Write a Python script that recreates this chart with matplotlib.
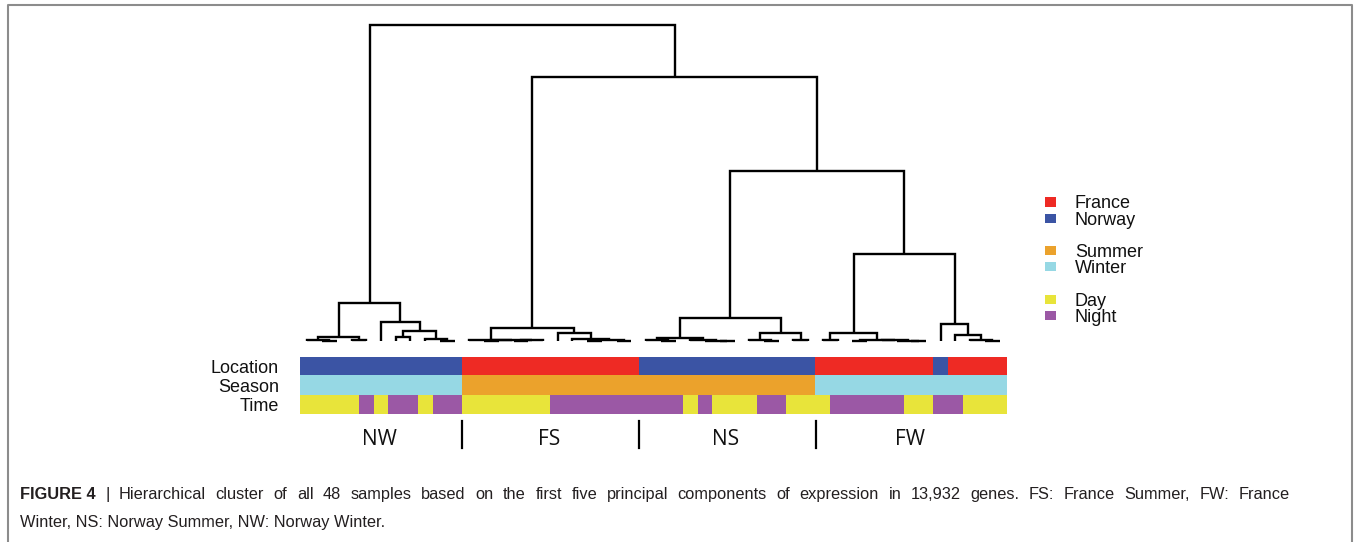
import matplotlib
matplotlib.use("Agg")
import matplotlib.pyplot as plt
import matplotlib.colors as mcolors
import numpy as np
from matplotlib.lines import Line2D

# dendrogram, one subtree per group: [left, right, merge height], ints are leaves
nw_tree = [[[0, [1, 2, 0.05], 0.08], [3, 4, 0.08], 0.37],
           [5, [[6, 7, 0.40], [8, [9, 10, 0.05], 0.25], 1.00], 1.93], 3.77]
fs_tree = [[11, [[12, 13, 0.05], [[14, 15, 0.03], 16, 0.06], 0.08], 0.10],
           [17, [18, [[19, 20, 0.05], [21, 22, 0.04], 0.08], 0.20], 0.77], 1.27]
ns_tree = [[[23, [24, 25, 0.05], 0.10], [26, [27, [28, 29, 0.03], 0.05], 0.08], 0.27],
           [[30, [31, 32, 0.04], 0.07], [33, 34, 0.06], 0.83], 2.27]
fw_tree = [[[35, 36, 0.06], [[37, 38, 0.05], [39, [40, [41, 42, 0.03], 0.05], 0.07], 0.09], 0.83],
           [43, [44, [45, [46, 47, 0.04], 0.07], 0.60], 1.70], 8.70]
top_heights = [31.6, 26.4, 17.0]  # root, FS+(NS+FW), NS+FW

# annotation rows (run lengths along the leaf order)
location_runs = [("Norway", 11), ("France", 12), ("Norway", 12),
                 ("France", 8), ("Norway", 1), ("France", 4)]
season_runs = [("Winter", 11), ("Summer", 24), ("Winter", 13)]
time_runs = [("Day", 4), ("Night", 1), ("Day", 1), ("Night", 2), ("Day", 1), ("Night", 2),
             ("Day", 6), ("Night", 9), ("Day", 1), ("Night", 1), ("Day", 3), ("Night", 2),
             ("Day", 3), ("Night", 5), ("Day", 2), ("Night", 2), ("Day", 3)]
row_labels = ["Location", "Season", "Time"]

group_names = ["NW", "FS", "NS", "FW"]
group_sizes = [11, 12, 12, 13]

legend_groups = [["France", "Norway"], ["Summer", "Winter"], ["Day", "Night"]]
colors = {"France": "#EE2A24", "Norway": "#3B54A4", "Summer": "#EBA22C",
          "Winter": "#96D8E4", "Day": "#E8E43A", "Night": "#9B58A5"}

caption_bold = "FIGURE 4"
caption_1 = ("| Hierarchical cluster of all 48 samples based on the first five principal "
             "components of expression in 13,932 genes. FS: France Summer, FW: France")
caption_2 = "Winter, NS: Norway Summer, NW: Norway Winter."

plt.rcParams['font.family'] = ['Liberation Sans', 'DejaVu Sans']

W, H = 1356, 542
fig = plt.figure(figsize=(W / 100, H / 100), dpi=100)
fig.patch.set_facecolor("white")


def fa(x0, y_top, x1, y_bot):
    """pixel box -> figure fraction rect"""
    return [x0 / W, 1 - y_bot / H, (x1 - x0) / W, (y_bot - y_top) / H]


def layout(node, segs):
    if isinstance(node, int):
        return node + 0.5, 0.0
    xl, hl = layout(node[0], segs)
    xr, hr = layout(node[1], segs)
    h = node[2]
    segs.append(([xl, xl, xr, xr], [hl, h, h, hr]))
    return (xl + xr) / 2, h


def expand(runs):
    out = []
    for name, n in runs:
        out += [name] * n
    return out


n_leaves = sum(group_sizes)
tree = [nw_tree, [fs_tree, [ns_tree, fw_tree, top_heights[2]], top_heights[1]], top_heights[0]]

# --- dendrogram
ax_d = fig.add_axes(fa(300, 25, 1007, 341))
segs = []
layout(tree, segs)
for xs, ys in segs:
    ax_d.plot(xs, ys, color="black", lw=1.7, solid_joinstyle="miter",
              solid_capstyle="butt", clip_on=False)
ax_d.set_xlim(0, n_leaves)
ax_d.set_ylim(0, top_heights[0])
ax_d.axis("off")

# --- colour bars
ax_h = fig.add_axes(fa(300, 356.7, 1007, 414))
rows = [expand(r) for r in (location_runs, season_runs, time_runs)]
rgb = np.array([[mcolors.to_rgb(colors[c]) for c in row] for row in rows])
ax_h.imshow(rgb, aspect="auto", extent=(0, n_leaves, len(rows), 0), interpolation="nearest")
ax_h.axis("off")
tr = matplotlib.transforms.blended_transform_factory(ax_h.transAxes, ax_h.transData)
for i, lab in enumerate(row_labels):
    ax_h.text(-0.0297, i + 0.6, lab, transform=tr, ha="right", va="center",
              fontsize=13, color="#111111")

# --- group labels and separators
ax_g = fig.add_axes(fa(300, 414, 1007, 460))
ax_g.set_xlim(0, n_leaves)
ax_g.set_ylim(0, 1)
bounds = np.cumsum([0] + group_sizes)
for k, name in enumerate(group_names):
    ax_g.text((bounds[k] + bounds[k + 1]) / 2 - 0.1, 0.44, name, ha="center", va="center",
              fontsize=15, family=["Open Sans", "DejaVu Sans"], color="#111111")
for b in bounds[1:-1]:
    ax_g.axvline(b, ymin=0.26, ymax=0.848, color="black", lw=1.6)
ax_g.axis("off")

# --- legend
ax_l = fig.add_axes(fa(1045, 193.9, 1145, 323.5))
ax_l.set_xlim(0, 1)
ax_l.set_ylim(7.5, -0.5)
r = 0
for grp in legend_groups:
    for name in grp:
        ax_l.barh(r, 0.11, left=0, height=0.56, color=colors[name])
        ax_l.text(0.30, r + 0.40, name, ha="left", va="baseline", fontsize=13, color="#111111")
        r += 1
    r += 1
ax_l.axis("off")

# --- caption, first line justified to the text block width
cap_size = 11.8
x_left, x_right = 20, 1290
base_1, base_2 = 499, 527
renderer = fig.canvas.get_renderer()
words = [(caption_bold, "bold")] + [(w, "normal") for w in caption_1.split()]
texts = []
for w, weight in words:
    t = fig.text(0, 1 - base_1 / H, w, fontsize=cap_size, fontweight=weight,
                 va="baseline", ha="left", color="#231F20")
    texts.append(t)
widths = [t.get_window_extent(renderer).width for t in texts]
gap = (x_right - x_left - sum(widths)) / (len(texts) - 1)
x = x_left
for t, wd in zip(texts, widths):
    t.set_x(x / W)
    x += wd + gap
fig.text(x_left / W, 1 - base_2 / H, caption_2, fontsize=cap_size, va="baseline",
         color="#231F20")

# --- frame around the figure box
fx = np.array([8, 8, 1352, 1352]) / W
fy = 1 - np.array([560, 5, 5, 560]) / H
fig.add_artist(Line2D(fx, fy, transform=fig.transFigure, color="#8C8C8C", lw=1.5))

fig.savefig("out.png", dpi=100, facecolor="white")
